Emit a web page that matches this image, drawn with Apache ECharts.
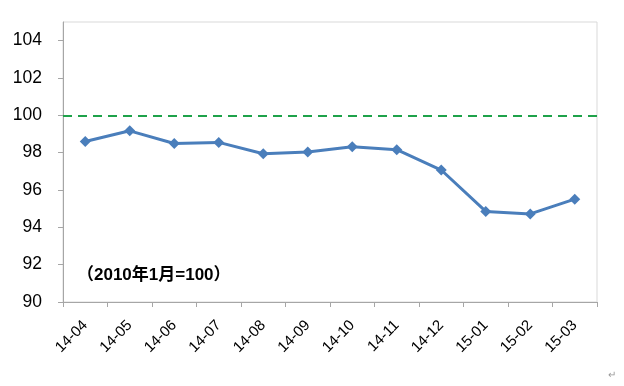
<!DOCTYPE html>
<html>
<head>
<meta charset="utf-8">
<script src="https://cdn.jsdelivr.net/npm/echarts@6/dist/echarts.min.js"></script>
<style>html,body{margin:0;padding:0;background:#fff}#c{width:624px;height:386px}</style>
</head>
<body>
<div id="c"></div>
<script>
var categories = ['14-04','14-05','14-06','14-07','14-08','14-09','14-10','14-11','14-12','15-01','15-02','15-03'];
var values = [98.60, 99.17, 98.49, 98.55, 97.94, 98.03, 98.32, 98.16, 97.07, 94.85, 94.72, 95.51];
var yTicks = [90, 92, 94, 96, 98, 100, 102, 104];
var baseValue = 100;
var note = '（2010年1月=100）';

var FONT = 'Liberation Sans, Arial, Noto Sans CJK SC, sans-serif';
var chart = echarts.init(document.getElementById('c'), null, {renderer: 'canvas'});
chart.setOption({
  animation: false,
  backgroundColor: '#ffffff',
  grid: {left: 63, right: 27, top: 22, bottom: 84, show: true, borderColor: '#d9d9d9', borderWidth: 1, backgroundColor: 'transparent'},
  title: {
    text: note, left: 72, top: 262,
    textStyle: {fontFamily: FONT, fontSize: 17, fontWeight: 'bold', color: '#000'}
  },
  graphic: [{type: 'text', right: 8, bottom: 6, style: {text: '↵', fill: '#999', fontSize: 10, fontFamily: FONT}}],
  xAxis: {
    type: 'category', data: categories, boundaryGap: true,
    axisLine: {lineStyle: {color: '#a6a6a6', width: 1}},
    axisTick: {show: true, alignWithLabel: false, length: 5, lineStyle: {color: '#a6a6a6'}},
    axisLabel: {rotate: 45, margin: 21, fontSize: 15, color: '#000', fontFamily: FONT, interval: 0},
    splitLine: {show: false}
  },
  yAxis: {
    type: 'value', min: 90, max: 105, interval: 2,
    axisLine: {show: true, lineStyle: {color: '#a6a6a6', width: 1}},
    axisTick: {show: true, length: 5, lineStyle: {color: '#a6a6a6'}, customValues: yTicks},
    axisLabel: {fontSize: 17.5, color: '#000', fontFamily: FONT, margin: 21, customValues: yTicks},
    splitLine: {show: false}
  },
  series: [{
    type: 'line', data: values,
    symbol: 'diamond', symbolSize: 11,
    itemStyle: {color: '#4a7ebb'},
    lineStyle: {color: '#4a7ebb', width: 3},
    markLine: {
      silent: true, symbol: ['none', 'none'], label: {show: false},
      lineStyle: {color: '#1fa24a', width: 2, type: [9, 6]},
      data: [{yAxis: baseValue}]
    }
  }]
});
</script>
</body>
</html>
